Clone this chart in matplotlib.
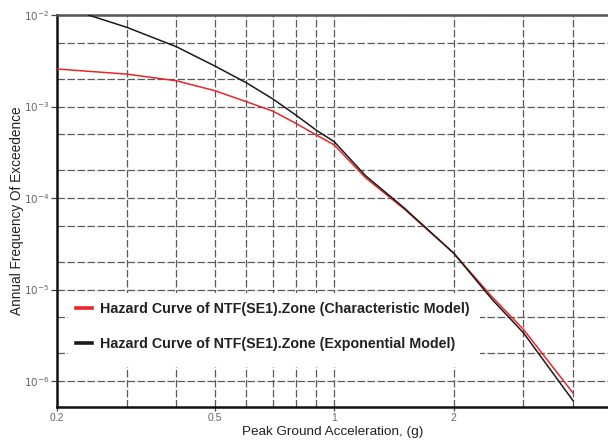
import matplotlib
matplotlib.use("Agg")
import matplotlib.pyplot as plt
from matplotlib.patches import Rectangle
from matplotlib.ticker import FixedLocator, NullFormatter, FixedFormatter

# Data (PGA in g, annual frequency of exceedance)
pga_char = [0.2, 0.3, 0.4, 0.5, 0.6, 0.7, 0.8, 0.9, 1.0, 1.2, 1.5, 2.0, 2.5, 3.0, 4.0]
afe_char = [2.57e-3, 2.26e-3, 1.91e-3, 1.49e-3, 1.13e-3, 8.9e-4, 6.55e-4, 4.9e-4, 3.8e-4,
            1.66e-4, 7.6e-5, 2.5e-5, 8.3e-6, 3.66e-6, 7.4e-7]

pga_exp = [0.24, 0.3, 0.4, 0.5, 0.6, 0.7, 0.8, 0.9, 1.0, 1.2, 1.5, 2.0, 2.5, 3.0, 4.0]
afe_exp = [1.0e-2, 7.33e-3, 4.5e-3, 2.77e-3, 1.82e-3, 1.21e-3, 8.07e-4, 5.53e-4, 4.12e-4,
           1.75e-4, 7.8e-5, 2.5e-5, 7.8e-6, 3.36e-6, 6.1e-7]

label_char = "Hazard Curve of NTF(SE1).Zone (Characteristic Model)"
label_exp = "Hazard Curve of NTF(SE1).Zone (Exponential Model)"

x_major = [0.2, 0.5, 1, 2]
x_major_labels = ["0.2", "0.5", "1", "2"]
x_minor = [0.3, 0.4, 0.6, 0.7, 0.8, 0.9, 3, 4]
y_major = [1e-6, 1e-5, 1e-4, 1e-3, 1e-2]
y_major_labels = [r"$10^{-6}$", r"$10^{-5}$", r"$10^{-4}$", r"$10^{-3}$", r"$10^{-2}$"]
y_minor = [2e-6, 5e-6, 2e-5, 5e-5, 2e-4, 5e-4, 2e-3, 5e-3]

plt.rcParams['font.family'] = ['Liberation Sans', 'DejaVu Sans']

fig = plt.figure(figsize=(6.08, 4.41), dpi=100)
ax = fig.add_axes([57/608, 1-407/441, 1-57/608, (407-15)/441])
ax.set_xscale('log')
ax.set_yscale('log')
ax.set_xlim(0.2, 4.9)
ax.set_ylim(5.2e-7, 1e-2)

ax.xaxis.set_major_locator(FixedLocator(x_major))
ax.xaxis.set_major_formatter(FixedFormatter(x_major_labels))
ax.xaxis.set_minor_locator(FixedLocator(x_minor))
ax.xaxis.set_minor_formatter(NullFormatter())
ax.yaxis.set_major_locator(FixedLocator(y_major))
ax.yaxis.set_major_formatter(FixedFormatter(y_major_labels))
ax.yaxis.set_minor_locator(FixedLocator(y_minor))
ax.yaxis.set_minor_formatter(NullFormatter())

ax.set_axisbelow(True)
ax.grid(True, which='both', color='#5a5a5a', lw=0.9, ls=(0, (6, 2)))

ax.tick_params(axis='both', which='major', length=4, width=0.9, color='#444',
               labelsize=7.5, labelcolor='#666', pad=1.5)
ax.tick_params(axis='x', which='major', length=3, pad=1)
ax.tick_params(axis='both', which='minor', length=0)

for s in ['left', 'bottom']:
    ax.spines[s].set_linewidth(1.8)
    ax.spines[s].set_color('#111')
ax.spines['top'].set_linewidth(1.8)
ax.spines['top'].set_color('#555')
ax.spines['right'].set_visible(False)

# white box behind the legend (covers gridlines as in the reference)
ax.add_patch(Rectangle((0.02, 0.102), 0.748, 0.189, transform=ax.transAxes,
                       facecolor='white', edgecolor='none', zorder=1))

ax.plot(pga_char, afe_char, color='#e8262a', lw=1.1, zorder=3, label=label_char)
ax.plot(pga_exp, afe_exp, color='#1a1a1a', lw=1.1, zorder=3, label=label_exp)

leg = ax.legend(loc='upper left', bbox_to_anchor=(0.0345, 0.268), frameon=False,
                borderpad=0, borderaxespad=0, labelspacing=1.45, handlelength=1.12,
                handletextpad=0.56, prop={'weight': 'bold', 'size': 10.3})
for ln in leg.get_lines():
    ln.set_linewidth(2.6)
for t in leg.get_texts():
    t.set_color('#222')

ax.set_xlabel("Peak Ground Acceleration, (g)", fontsize=9.7, color='#222', labelpad=2.6)
ax.set_ylabel("Annual Frequency Of Exceedence", fontsize=9.8, color='#222', labelpad=0)

fig.savefig("out.png", dpi=100)
